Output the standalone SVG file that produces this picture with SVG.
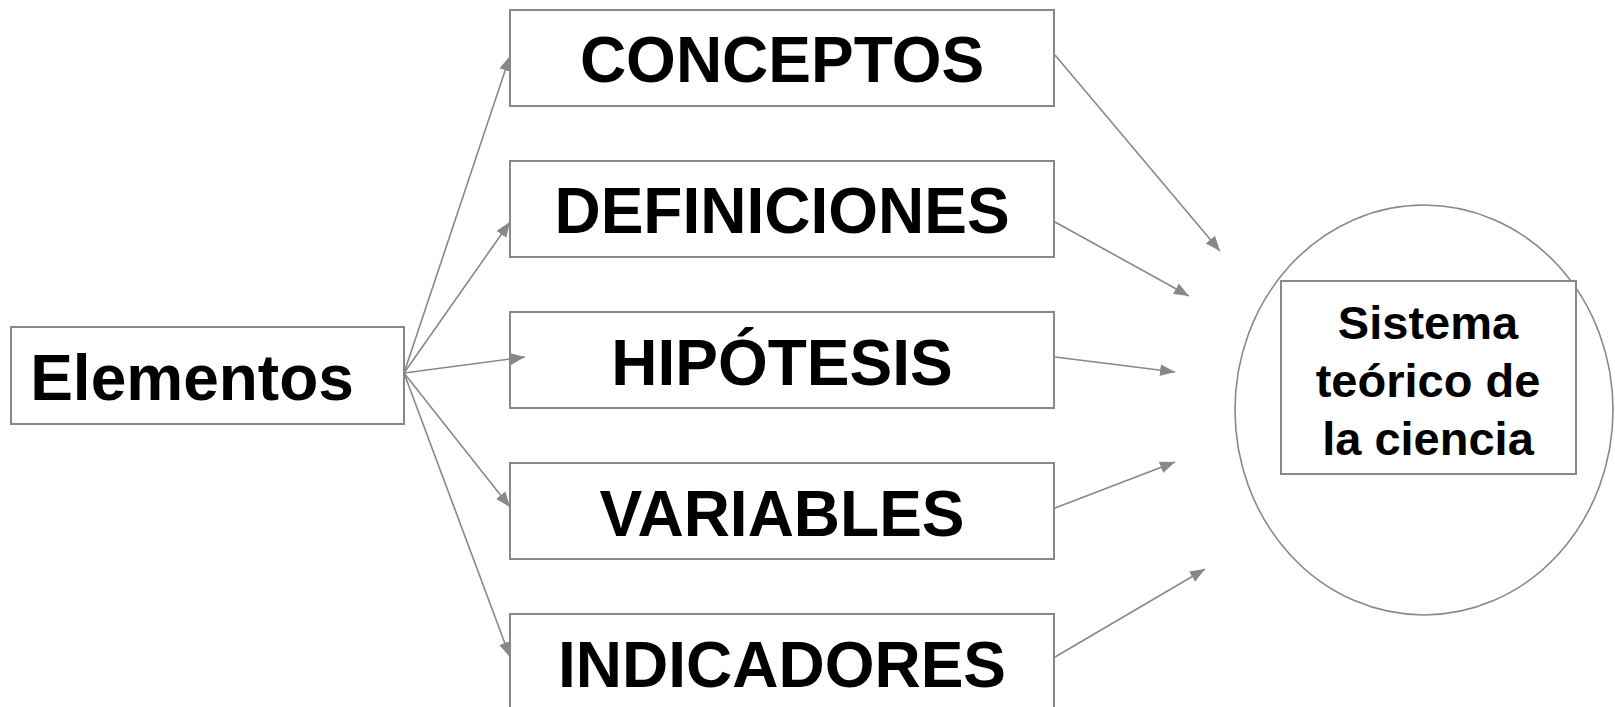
<svg xmlns="http://www.w3.org/2000/svg" width="1615" height="707" viewBox="0 0 1615 707">
<style>
.box{fill:#fff;stroke:#888;stroke-width:2}
.lbl{font-family:"Liberation Sans",Arial,sans-serif;font-weight:bold;fill:#000;text-anchor:middle}
.big{font-size:64px}
.sm{font-size:47px}
.con{stroke:#888;stroke-width:1.6;fill:none;marker-end:url(#ah)}
</style>
<defs>
<marker id="ah" markerUnits="userSpaceOnUse" markerWidth="16" markerHeight="13" refX="15" refY="6" orient="auto">
<path d="M0,0 L15,6 L0,12 z" fill="#888"/>
</marker>
</defs>
<rect width="1615" height="707" fill="#fff"/>
<g id="sistema">
<ellipse cx="1424" cy="410" rx="189" ry="205" fill="#fff" stroke="#888" stroke-width="1.6"/>
<rect class="box" x="1281" y="281" width="295" height="193"/>
<text class="lbl sm" x="1428" y="339">Sistema</text>
<text class="lbl sm" x="1428" y="397">teórico de</text>
<text class="lbl sm" x="1428" y="455">la ciencia</text>
</g>
<g id="elementos">
<rect class="box" x="11" y="327" width="393" height="97"/>
<text class="lbl big" x="192" y="400" font-size="63">Elementos</text>
</g>
<g id="conceptos">
<rect class="box" x="510" y="10" width="544" height="96"/>
<text class="lbl big" x="782" y="82">CONCEPTOS</text>
</g>
<g id="definiciones">
<rect class="box" x="510" y="161" width="544" height="96"/>
<text class="lbl big" x="782" y="233">DEFINICIONES</text>
</g>
<g id="hipotesis">
<rect class="box" x="510" y="312" width="544" height="96"/>
<text class="lbl big" x="782" y="385">HIPÓTESIS</text>
</g>
<g id="variables">
<rect class="box" x="510" y="463" width="544" height="96"/>
<text class="lbl big" x="782" y="536">VARIABLES</text>
</g>
<g id="indicadores">
<rect class="box" x="510" y="614" width="544" height="96"/>
<text class="lbl big" x="782" y="687">INDICADORES</text>
</g>
<g id="connectors">
<line class="con" x1="404" y1="373" x2="510" y2="56"/>
<line class="con" x1="404" y1="373" x2="510" y2="222"/>
<line class="con" x1="404" y1="373" x2="525" y2="357"/>
<line class="con" x1="404" y1="373" x2="510" y2="507"/>
<line class="con" x1="404" y1="373" x2="510" y2="657"/>
<line class="con" x1="1055" y1="55" x2="1220" y2="251"/>
<line class="con" x1="1055" y1="222" x2="1189" y2="296"/>
<line class="con" x1="1055" y1="357" x2="1175" y2="372"/>
<line class="con" x1="1055" y1="508" x2="1175" y2="462"/>
<line class="con" x1="1055" y1="657" x2="1205" y2="569"/>
</g>
</svg>
